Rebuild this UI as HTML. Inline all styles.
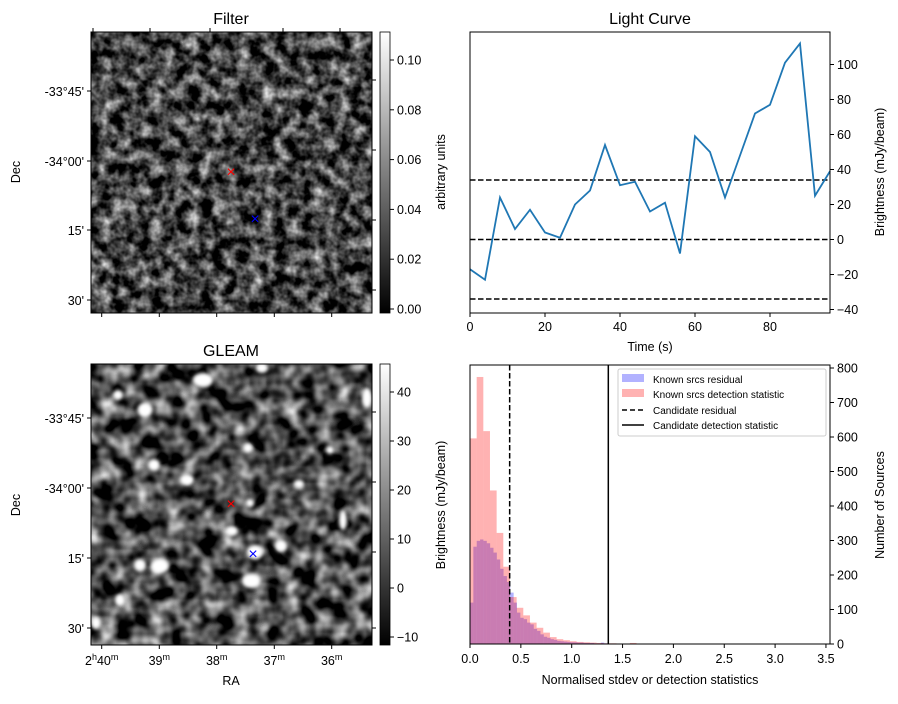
<!DOCTYPE html>
<html><head><meta charset="utf-8"><style>
body{margin:0;background:#fff}
svg text{font-family:"Liberation Sans","DejaVu Sans",sans-serif;fill:#000}
</style></head><body>
<svg id="fig" width="898" height="699" viewBox="0 0 898 699" xmlns="http://www.w3.org/2000/svg">
<defs>
<filter id="nf" x="0" y="0" width="100%" height="100%" color-interpolation-filters="sRGB">
<feTurbulence type="fractalNoise" baseFrequency="0.08" numOctaves="3" seed="3"/>
<feColorMatrix type="matrix" values="1.5 0 0 0 -0.48  1.5 0 0 0 -0.48  1.5 0 0 0 -0.48  0 0 0 0 1"/>
</filter>
<filter id="ng" x="0" y="0" width="100%" height="100%" color-interpolation-filters="sRGB">
<feTurbulence type="fractalNoise" baseFrequency="0.06" numOctaves="2" seed="7"/>
<feColorMatrix type="matrix" values="1.7 0 0 0 -0.55  1.7 0 0 0 -0.55  1.7 0 0 0 -0.55  0 0 0 0 1"/>
</filter>
<filter id="bl" color-interpolation-filters="sRGB"><feGaussianBlur stdDeviation="1.8"/></filter>
<linearGradient id="cb" x1="0" y1="1" x2="0" y2="0"><stop offset="0" stop-color="#000"/><stop offset="1" stop-color="#fff"/></linearGradient>
<clipPath id="gc"><rect x="91" y="364" width="281" height="281"/></clipPath>
</defs>

<text x="231" y="24" font-size="16" text-anchor="middle">Filter</text>
<rect x="91" y="32" width="281" height="281" filter="url(#nf)"/>
<rect x="91" y="32" width="281" height="281" fill="none" stroke="#000"/>
<g stroke="#000">
<line x1="87" y1="91" x2="91" y2="91"/><line x1="87" y1="161" x2="91" y2="161"/><line x1="87" y1="230" x2="91" y2="230"/><line x1="87" y1="300" x2="91" y2="300"/>
<line x1="101.7" y1="313" x2="101.7" y2="317"/><line x1="159.3" y1="313" x2="159.3" y2="317"/><line x1="216.7" y1="313" x2="216.7" y2="317"/><line x1="274.3" y1="313" x2="274.3" y2="317"/><line x1="331.7" y1="313" x2="331.7" y2="317"/>
<line x1="93" y1="28" x2="93" y2="32"/><line x1="150" y1="28" x2="150" y2="32"/><line x1="210" y1="28" x2="210" y2="32"/><line x1="283" y1="28" x2="283" y2="32"/><line x1="340" y1="28" x2="340" y2="32"/>
<line x1="372" y1="80" x2="376" y2="80"/><line x1="372" y1="150" x2="376" y2="150"/><line x1="372" y1="220" x2="376" y2="220"/><line x1="372" y1="290" x2="376" y2="290"/>
</g>
<g font-size="12.5" text-anchor="end">
<text x="84" y="96">-33°45'</text><text x="84" y="166">-34°00'</text><text x="84" y="235">15'</text><text x="84" y="305">30'</text>
</g>
<text transform="translate(20,172) rotate(-90)" font-size="12.5" text-anchor="middle">Dec</text>
<text x="231" y="177" font-size="16" text-anchor="middle" style="fill:red">×</text>
<text x="255" y="224" font-size="16" text-anchor="middle" style="fill:blue">×</text>
<rect x="380" y="32" width="10" height="281" fill="url(#cb)" stroke="#000" stroke-width="0.8"/>
<g id="fcb" font-size="12.5"></g>
<text transform="translate(445,172) rotate(-90)" font-size="12.5" text-anchor="middle">arbitrary units</text>

<text x="231" y="356" font-size="16" text-anchor="middle">GLEAM</text>
<rect x="91" y="364" width="281" height="281" filter="url(#ng)"/>
<g id="blobs" clip-path="url(#gc)" filter="url(#bl)" fill="#fff"></g>
<rect x="91" y="364" width="281" height="281" fill="none" stroke="#000"/>
<g stroke="#000">
<line x1="87" y1="418" x2="91" y2="418"/><line x1="87" y1="488" x2="91" y2="488"/><line x1="87" y1="558" x2="91" y2="558"/><line x1="87" y1="628" x2="91" y2="628"/>
<line x1="101.7" y1="645" x2="101.7" y2="649"/><line x1="159.3" y1="645" x2="159.3" y2="649"/><line x1="216.7" y1="645" x2="216.7" y2="649"/><line x1="274.3" y1="645" x2="274.3" y2="649"/><line x1="331.7" y1="645" x2="331.7" y2="649"/>
<line x1="372" y1="412" x2="376" y2="412"/><line x1="372" y1="482" x2="376" y2="482"/><line x1="372" y1="552" x2="376" y2="552"/><line x1="372" y1="628" x2="376" y2="628"/>
</g>
<g font-size="12.5" text-anchor="end">
<text x="84" y="423">-33°45'</text><text x="84" y="493">-34°00'</text><text x="84" y="563">15'</text><text x="84" y="633">30'</text>
</g>
<text transform="translate(20,505) rotate(-90)" font-size="12.5" text-anchor="middle">Dec</text>
<g font-size="12.5" text-anchor="middle">
<text x="101.7" y="665">2<tspan font-size="9" dy="-5">h</tspan><tspan dy="5">40</tspan><tspan font-size="9" dy="-5">m</tspan></text>
<text x="159.3" y="665">39<tspan font-size="9" dy="-5">m</tspan></text>
<text x="216.7" y="665">38<tspan font-size="9" dy="-5">m</tspan></text>
<text x="274.3" y="665">37<tspan font-size="9" dy="-5">m</tspan></text>
<text x="331.7" y="665">36<tspan font-size="9" dy="-5">m</tspan></text>
</g>
<text x="231" y="685" font-size="12.5" text-anchor="middle">RA</text>
<text x="231" y="509" font-size="16" text-anchor="middle" style="fill:red">×</text>
<text x="253" y="559" font-size="16" text-anchor="middle" style="fill:blue">×</text>
<rect x="380" y="364" width="10" height="281" fill="url(#cb)" stroke="#000" stroke-width="0.8"/>
<g id="gcb" font-size="12.5"></g>
<text transform="translate(445,505) rotate(-90)" font-size="12.5" text-anchor="middle">Brightness (mJy/beam)</text>

<text x="650" y="24" font-size="16" text-anchor="middle">Light Curve</text>
<g id="lc"></g>
<rect x="470" y="32" width="360" height="281" fill="none" stroke="#000"/>
<text x="650" y="351" font-size="12.5" text-anchor="middle">Time (s)</text>
<text transform="translate(884,172) rotate(-90)" font-size="12.5" text-anchor="middle">Brightness (mJy/beam)</text>

<g id="hist"></g>
<rect x="470" y="365" width="360" height="279" fill="none" stroke="#000"/>
<text x="650" y="684" font-size="12.5" text-anchor="middle">Normalised stdev or detection statistics</text>
<text transform="translate(884,505) rotate(-90)" font-size="12.5" text-anchor="middle">Number of Sources</text>
<g>
<rect x="618" y="369" width="208" height="67" fill="#fff" stroke="#ccc" rx="2"/>
<rect x="622" y="374" width="22" height="8" fill="rgba(0,0,255,0.3)"/>
<text x="653" y="383" font-size="10">Known srcs residual</text>
<rect x="622" y="389" width="22" height="8" fill="rgba(255,0,0,0.3)"/>
<text x="653" y="398" font-size="10">Known srcs detection statistic</text>
<line x1="622" y1="410" x2="644" y2="410" stroke="#000" stroke-width="1.5" stroke-dasharray="5,3"/>
<text x="653" y="414" font-size="10">Candidate residual</text>
<line x1="622" y1="425" x2="644" y2="425" stroke="#000" stroke-width="1.5"/>
<text x="653" y="429" font-size="10">Candidate detection statistic</text>
</g>
</svg>
<script>
const NS='http://www.w3.org/2000/svg';
function mk(p,t,a){const e=document.createElementNS(NS,t);for(const k in a)e.setAttribute(k,a[k]);p.appendChild(e);return e;}
const lcTimes=[0,4,8,12,16,20,24,28,32,36,40,44,48,52,56,60,64,68,72,76,80,84,88,92,96];
const lcValues=[-17,-23,24,6,17,4,1,20,28,54,31,33,16,21,-8,59,50,24,48,72,77,101,112,25,39];
const lcThresholds=[34,0,-34];
const lcXTicks=[0,20,40,60,80];
const lcYTicks=[-40,-20,0,20,40,60,80,100];
const redEdgesStart=0, redBinWidth=0.0655;
const redCounts=[596,774,617,445,322,224,136,105,83,62,47,33,20,14,11,8,6,5,4,3,2,2,1,1,3,1,1,0,1,0,1,1,0,0,1,0,0,0,0,0,0,0,0,0,0,0,0,0,0,0,0,1];
const blueBinWidth=0.033;
const blueCounts=[120,282,299,303,299,292,279,265,245,218,197,180,149,120,91,76,72,62,57,44,38,28,21,18,14,12,9,8,7,6,5,5,4,4,3,3,3,2,2,4,2,1,1,1,1,1,0,0,1,0,0,0,0,1,0,0];
const candResidual=0.39, candDetection=1.36;
const hXTicks=[0,0.5,1.0,1.5,2.0,2.5,3.0,3.5];
const hYTicks=[0,100,200,300,400,500,600,700,800];
const fcbTicks=[0,0.02,0.04,0.06,0.08,0.10];
const gcbTicks=[-10,0,10,20,30,40];
const blobs=[[203,380,10,7],[145,410,7,7],[367,398,5,10],[154,465,6,6],[187,480,7,6],[248,448,5,5],[232,531,6,5],[160,566,9,7],[140,565,6,6],[255,552,8,7],[251,581,9,7],[281,546,6,6],[299,484,5,4],[343,520,4,10],[96,623,5,6],[120,600,5,6],[250,503,4,4],[262,368,6,5],[118,395,5,5],[330,450,4,4]];

const lx=t=>470+t*3.75, ly=v=>239.5-v*1.75;
const lc=document.getElementById('lc');
lcThresholds.forEach(v=>{const l=mk(lc,'line',{x1:470,x2:830,y1:ly(v),y2:ly(v),stroke:'#000','stroke-width':1.6,'stroke-dasharray':'5.5,2.5'});

});
const pl=mk(lc,'polyline',{points:lcTimes.map((t,i)=>lx(Math.min(t,96))+','+ly(lcValues[i])).join(' '),fill:'none',stroke:'#1f77b4','stroke-width':1.8});


lcXTicks.forEach(t=>{mk(lc,'line',{x1:lx(t),x2:lx(t),y1:313,y2:317,stroke:'#000'});const tx=mk(lc,'text',{x:lx(t),y:331,'font-size':12.5,'text-anchor':'middle'});tx.textContent=t;

});
lcYTicks.forEach(v=>{mk(lc,'line',{x1:830,x2:834,y1:ly(v),y2:ly(v),stroke:'#000'});const tx=mk(lc,'text',{x:837,y:ly(v)+4.5,'font-size':12.5});tx.textContent=v<0?'\u2212'+(-v):v;

});

const hx=v=>470+v*101.7, hy=c=>644-c*0.345;
const h=document.getElementById('hist');
blueCounts.forEach((c,i)=>{if(!c)return;const r=mk(h,'rect',{x:hx(i*blueBinWidth),y:hy(c),width:blueBinWidth*101.7,height:644-hy(c),fill:'rgba(0,0,255,0.3)'});

});
redCounts.forEach((c,i)=>{if(!c)return;const r=mk(h,'rect',{x:hx(redEdgesStart+i*redBinWidth),y:hy(c),width:redBinWidth*101.7,height:644-hy(c),fill:'rgba(255,0,0,0.3)'});

});
let l1=mk(h,'line',{x1:hx(candResidual),x2:hx(candResidual),y1:365,y2:644,stroke:'#000','stroke-width':1.5,'stroke-dasharray':'5.5,2.5'});


let l2=mk(h,'line',{x1:hx(candDetection),x2:hx(candDetection),y1:365,y2:644,stroke:'#000','stroke-width':1.5});


hXTicks.forEach(v=>{mk(h,'line',{x1:hx(v),x2:hx(v),y1:644,y2:648,stroke:'#000'});const tx=mk(h,'text',{x:hx(v),y:663,'font-size':12.5,'text-anchor':'middle'});tx.textContent=v.toFixed(1);

});
hYTicks.forEach(v=>{mk(h,'line',{x1:830,x2:834,y1:hy(v),y2:hy(v),stroke:'#000'});const tx=mk(h,'text',{x:837,y:hy(v)+4.5,'font-size':12.5});tx.textContent=v;

});

const f=document.getElementById('fcb');
fcbTicks.forEach(v=>{const y=309-v*2490;mk(f,'line',{x1:390,x2:394,y1:y,y2:y,stroke:'#000'});const tx=mk(f,'text',{x:397,y:y+4.5});tx.textContent=v.toFixed(2);

});
const g=document.getElementById('gcb');
gcbTicks.forEach(v=>{const y=588-v*4.9;mk(g,'line',{x1:390,x2:394,y1:y,y2:y,stroke:'#000'});const tx=mk(g,'text',{x:397,y:y+4.5});tx.textContent=v<0?'\u2212'+(-v):v;

});
const b=document.getElementById('blobs');
blobs.forEach(d=>{const e=mk(b,'ellipse',{cx:d[0],cy:d[1],rx:d[2],ry:d[3]});

});
</script>
</body></html>
